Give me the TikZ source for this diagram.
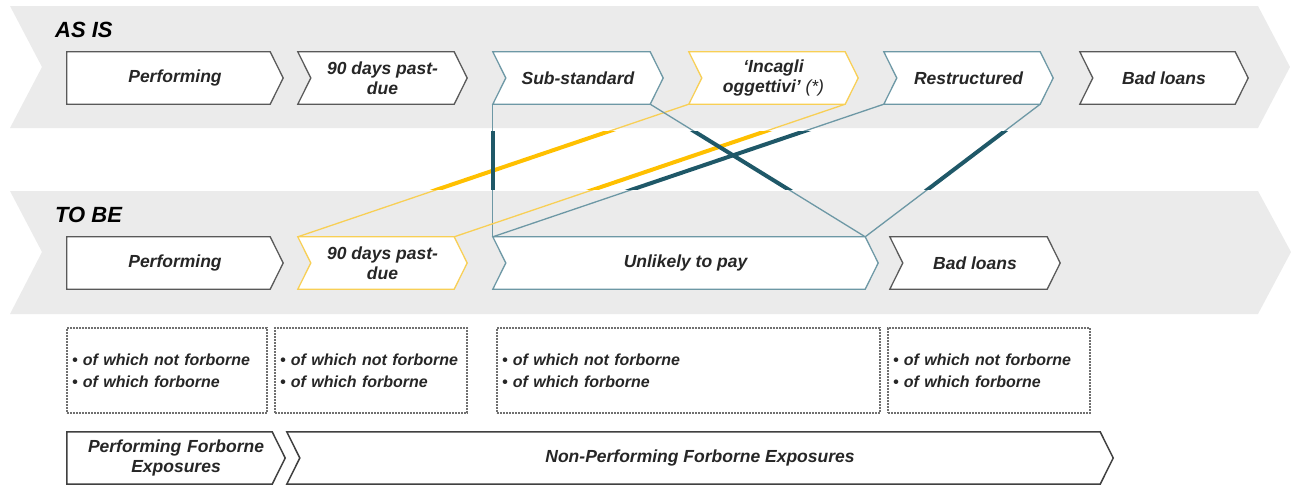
\documentclass[tikz,border=0pt]{standalone}
\usepackage{fontspec}
\setmainfont{Liberation Sans}
\definecolor{bandc}{HTML}{EBEBEB}
\definecolor{dgray}{HTML}{595959}
\definecolor{tealL}{HTML}{6D98A5}
\definecolor{tealD}{HTML}{1F5868}
\definecolor{yelL}{HTML}{F8CF55}
\definecolor{yelD}{HTML}{FFC000}
\definecolor{txt}{HTML}{262626}
\definecolor{dotc}{HTML}{707070}
\pgfdeclarelayer{back}
\pgfsetlayers{back,main}
\newcommand\chevR[1]{(#1.north west) -- ([xshift=-13pt]#1.north east) -- (#1.east) -- ([xshift=-13pt]#1.south east) -- (#1.south west) -- cycle}
\newcommand\chevLR[1]{(#1.north west) -- ([xshift=-13pt]#1.north east) -- (#1.east) -- ([xshift=-13pt]#1.south east) -- (#1.south west) -- ([xshift=13pt]#1.west) -- cycle}
\begin{document}
\begin{tikzpicture}[x=1pt,y=-1pt,
  box/.style={minimum height=52pt, inner sep=0pt, align=center, text=txt,
    font=\bfseries\itshape\fontsize{17.5}{19.5}\selectfont},
  head/.style={anchor=west, inner sep=0pt, text=black,
    font=\bfseries\itshape\fontsize{22}{24}\selectfont},
  fbox/.style={draw=dotc, densely dotted, line width=2pt, minimum height=85pt,
    inner xsep=5pt, inner ysep=0pt, align=left, text=txt,
    font=\bfseries\itshape\fontsize{16}{22}\selectfont},
  outl/.style={line width=1.3pt, fill=white, line join=miter},
  thinT/.style={draw=tealL, line width=1.3pt},
  thinY/.style={draw=yelL, line width=1.3pt},
  thickT/.style={draw=tealD, line width=4pt},
  thickY/.style={draw=yelD, line width=4pt}]
\useasboundingbox (0,0) rectangle (1293,488);
\node[head] (asis) at (55,30) {AS IS};
\node[head] (tobe) at (55,215) {TO BE};
% AS IS boxes
\node[box, minimum width=216pt] (perf1) at (175,78) {Performing};
\node[box, minimum width=169pt] (dpd1) at (382.5,78) {90 days past-\\due};
\node[box, minimum width=170pt] (sub) at (578,78) {Sub-standard};
\node[box, minimum width=169pt] (inc) at (773.5,78) {`Incagli\\oggettivi' {\mdseries(*)}};
\node[box, minimum width=169pt] (res) at (968.5,78) {Restructured};
\node[box, minimum width=168pt] (bad1) at (1164,78) {Bad loans};
% TO BE boxes
\node[box, minimum width=216pt] (perf2) at (175,263) {Performing};
\node[box, minimum width=169pt] (dpd2) at (382.5,263) {90 days past-\\due};
\node[box, minimum width=385pt] (utp) at (685.5,263) {Unlikely to pay};
\node[box, minimum width=170pt] (bad2) at (975,263) {Bad loans};
% forborne boxes
\node[fbox, minimum width=200pt, text width=190pt] (fb1) at (167,370.5) {\textbullet\ of which not forborne\\\textbullet\ of which forborne};
\node[fbox, minimum width=192pt, text width=182pt] (fb2) at (371,370.5) {\textbullet\ of which not forborne\\\textbullet\ of which forborne};
\node[fbox, minimum width=383pt, text width=373pt] (fb3) at (688.5,370.5) {\textbullet\ of which not forborne\\\textbullet\ of which forborne};
\node[fbox, minimum width=202pt, text width=192pt] (fb4) at (989,370.5) {\textbullet\ of which not forborne\\\textbullet\ of which forborne};
% bottom chevrons
\node[box, minimum width=218pt, text width=200pt] (pfe) at (176,458) {Performing Forborne\\Exposures};
\node[box, minimum width=826pt] (npfe) at (700,458) {Non-Performing Forborne Exposures};
\begin{pgfonlayer}{back}
% bands
\fill[bandc] (10,6) -- (1258,6) -- (1290,67) -- (1258,128) -- (10,128) -- (42,67) -- cycle;
\fill[bandc] (10,191) -- (1258,191) -- (1291,252) -- (1258,314) -- (10,314) -- (42,252) -- cycle;
% connectors
\draw[thinT] (sub.south west) -- (utp.north west);
\draw[thinY] (inc.south west) -- (dpd2.north west);
\draw[thinY] ([xshift=-13pt]inc.south east) -- ([xshift=-13pt]dpd2.north east);
\draw[thinT] (res.south west) -- (utp.north west);
\draw[thinT] ([xshift=-13pt]sub.south east) -- ([xshift=-13pt]utp.north east);
\draw[thinT] ([xshift=-13pt]res.south east) -- ([xshift=-13pt]utp.north east);
\begin{scope}
\clip (0,131) rectangle (1293,189);
\draw[thickY] (inc.south west) -- (dpd2.north west);
\draw[thickY] ([xshift=-13pt]inc.south east) -- ([xshift=-13pt]dpd2.north east);
\draw[thickT] (res.south west) -- (utp.north west);
\draw[thickT] (sub.south west) -- (utp.north west);
\draw[thickT] ([xshift=-13pt]sub.south east) -- ([xshift=-13pt]utp.north east);
\draw[thickT] ([xshift=-13pt]res.south east) -- ([xshift=-13pt]utp.north east);
\end{scope}
% outlines
\draw[outl, draw=dgray] \chevR{perf1};
\draw[outl, draw=dgray] \chevLR{dpd1};
\draw[outl, draw=tealL] \chevLR{sub};
\draw[outl, draw=yelL] \chevLR{inc};
\draw[outl, draw=tealL] \chevLR{res};
\draw[outl, draw=dgray] \chevLR{bad1};
\draw[outl, draw=dgray] \chevR{perf2};
\draw[outl, draw=yelL] \chevLR{dpd2};
\draw[outl, draw=tealL] \chevLR{utp};
\draw[outl, draw=dgray] \chevLR{bad2};
\draw[outl, draw=black!75, line width=1.5pt] \chevR{pfe};
\draw[outl, draw=black!75, line width=1.5pt] \chevLR{npfe};
\end{pgfonlayer}
\end{tikzpicture}
\end{document}
